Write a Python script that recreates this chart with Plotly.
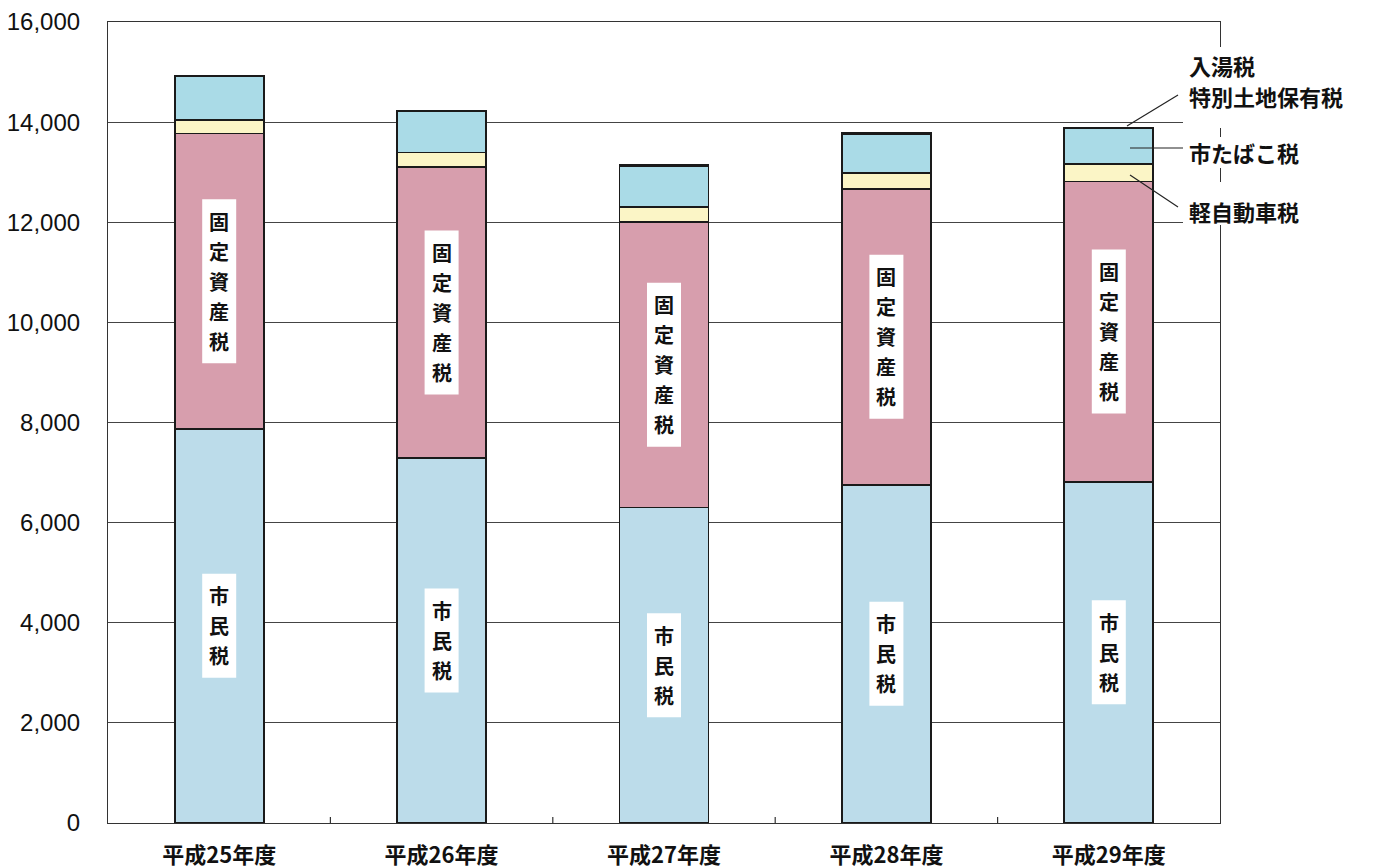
import plotly.graph_objects as go

# ---- data (millions of yen) ----
years = ["平成25年度", "平成26年度", "平成27年度", "平成28年度", "平成29年度"]
shiminzei = [7877, 7291, 6304, 6758, 6818]          # 市民税
kotei = [5893, 5813, 5702, 5907, 5999]              # 固定資産税
keijidosha = [279, 292, 299, 320, 347]              # 軽自動車税
tabako = [865, 819, 825, 779, 719]                  # 市たばこ税
nyuto = [12, 12, 12, 12, 12]                        # 入湯税・特別土地保有税
y_ticks = [0, 2000, 4000, 6000, 8000, 10000, 12000, 14000, 16000]
y_ticktext = ["0", "2,000", "4,000", "6,000", "8,000", "10,000", "12,000", "14,000", "16,000"]

JP = "Noto Sans CJK JP"
NUM = "Liberation Sans"

# the page body adds an 8px offset; plot area in page pixels: x 108..1220, y 22..823
OFF = 8
L, T, PW, PH = 108 - OFF, 22 - OFF, 1112, 801
W, H = 1373, 867
YMAX = 16000
UNIT_PER_PX = YMAX / PH
CAT_PER_PX = 1.0 / (PW / len(years))

fig = go.Figure()
series = [
    ("市民税", shiminzei, "#bcdcea"),
    ("固定資産税", kotei, "#d79ead"),
    ("軽自動車税", keijidosha, "#fbf5c6"),
    ("市たばこ税", tabako, "#aadbe7"),
    ("入湯税・特別土地保有税", nyuto, "#aadbe7"),
]
for name, vals, col in series:
    fig.add_trace(go.Bar(
        x=list(range(len(years))), y=vals, name=name, width=0.4,
        marker=dict(color=col, line=dict(color="#1a1a1a", width=1.7)),
        hoverinfo="skip",
    ))

# vertical labels inside bars: white box + stacked characters
def vertical_label(i, center, text):
    n = len(text)
    step = 30 * UNIT_PER_PX
    half_h = ((n - 1) * 30 / 2 + 22) * UNIT_PER_PX
    half_w = 17 * CAT_PER_PX
    fig.add_shape(type="rect", xref="x", yref="y",
                  x0=i - half_w, x1=i + half_w, y0=center - half_h, y1=center + half_h,
                  fillcolor="white", line=dict(width=0), layer="above")
    for k, ch in enumerate(text):
        fig.add_annotation(x=i, y=center + ((n - 1) / 2 - k) * step, text=ch,
                           showarrow=False, yanchor="middle",
                           font=dict(family=JP, size=20, color="#111", weight=700))

for i in range(len(years)):
    vertical_label(i, shiminzei[i] + kotei[i] / 2, "固定資産税")
    vertical_label(i, shiminzei[i] / 2, "市民税")

# pixel helpers (reference page pixels -> paper coords)
def px_to_paper_x(px):
    return (px - 108) / PW

def px_to_paper_y(py):
    return (823 - py) / PH

# white masks on the right (label area breaks gridlines & frame)
for (y0, y1) in [(47, 128), (137, 168), (182, 225)]:
    fig.add_shape(type="rect", xref="paper", yref="paper",
                  x0=px_to_paper_x(1183), x1=px_to_paper_x(1373),
                  y0=px_to_paper_y(y1), y1=px_to_paper_y(y0),
                  fillcolor="white", line=dict(width=0), layer="above")

# leader lines
for (xa, ya, xb, yb) in [(1178, 95, 1127, 126), (1130, 148, 1183, 148), (1130, 175, 1178, 207)]:
    fig.add_shape(type="line", xref="paper", yref="paper",
                  x0=px_to_paper_x(xa), y0=px_to_paper_y(ya),
                  x1=px_to_paper_x(xb), y1=px_to_paper_y(yb),
                  line=dict(color="#222", width=1.2), layer="above")

# side labels
for text, py in [("入湯税", 65), ("特別土地保有税", 96), ("市たばこ税", 152), ("軽自動車税", 211)]:
    fig.add_annotation(xref="paper", yref="paper", x=px_to_paper_x(1187), y=px_to_paper_y(py),
                       xanchor="left", yanchor="middle", text=text, showarrow=False,
                       font=dict(family=JP, size=22, color="#111", weight=700))

fig.update_layout(
    width=W, height=H,
    margin=dict(l=L, r=W - L - PW, t=T, b=H - T - PH, autoexpand=False),
    paper_bgcolor="white", plot_bgcolor="white",
    barmode="stack", showlegend=False,
    xaxis=dict(
        automargin=False, range=[-0.5, len(years) - 0.5],
        tickvals=list(range(len(years))), ticktext=years,
        showline=True, linecolor="#333", linewidth=1.2, mirror=True,
        ticks="", showgrid=False,
        tickfont=dict(family=JP, size=22, color="#111", weight=700),
        ticklabelstandoff=12,
    ),
    yaxis=dict(
        automargin=False,
        range=[0, YMAX], tickvals=y_ticks, ticktext=y_ticktext,
        showline=True, linecolor="#333", linewidth=1.2, mirror=True,
        showgrid=True, gridcolor="#444", gridwidth=1,
        ticks="", tickfont=dict(family=NUM, size=24, color="#111"),
        ticklabelstandoff=22, zeroline=False,
    ),
)

# small inside ticks at the category boundaries on the x axis
for b in range(1, len(years)):
    fig.add_shape(type="line", xref="x", yref="paper",
                  x0=b - 0.5, x1=b - 0.5, y0=0, y1=6 / PH,
                  line=dict(color="#333", width=1.2))

fig.write_html("out.html")
